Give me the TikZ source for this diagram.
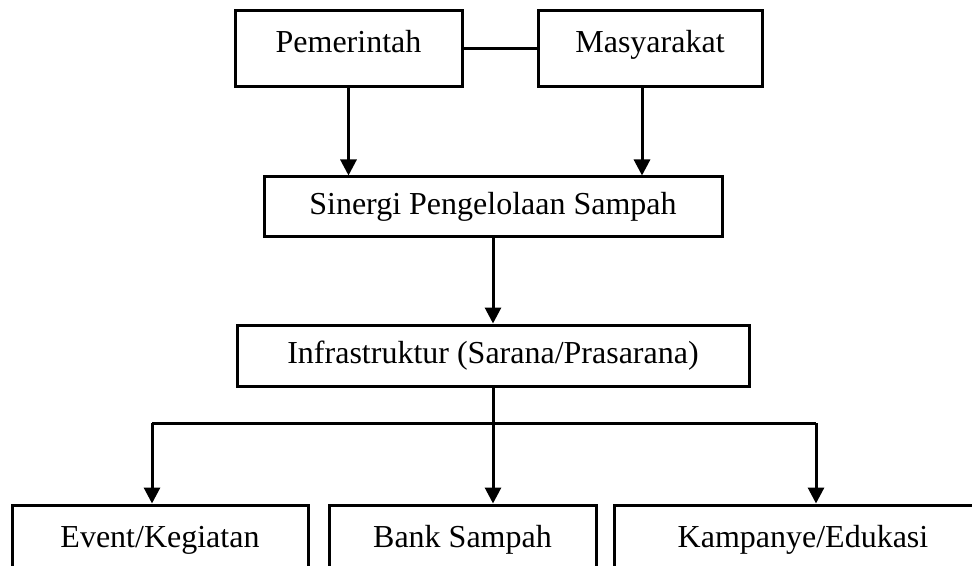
\documentclass[tikz,border=0pt]{standalone}
\usepackage{fontspec}
\setmainfont{Liberation Serif}
\usepackage{tikz}
\usetikzlibrary{arrows.meta,positioning}

\begin{document}
\begin{tikzpicture}[
x=0.5pt, y=-0.5pt,
font=\fontsize{16}{19}\selectfont,
box/.style={draw, line width=1.5pt, align=center, inner sep=0pt, text height=11pt, text depth=3.5pt},
link/.style={line width=1.5pt},
line/.style={-{Triangle[width=8pt,length=8pt]}, line width=1.5pt}
]
\useasboundingbox (0,0) rectangle (972,566);
\clip (0,0) rectangle (972,566);

\node[box, minimum width=113.5pt, minimum height=38pt, text depth=7pt] (pem) at (348.5,49) {Pemerintah};
\node[box, minimum width=112pt, minimum height=38pt, text depth=7pt, right=36.5pt of pem] (masy) {Masyarakat};
\node[box, minimum width=229pt, minimum height=30pt] (sinergi) at (493,207) {Sinergi Pengelolaan Sampah};
\node[box, minimum width=256pt, minimum height=30.5pt, below=42.5pt of sinergi] (infra) {Infrastruktur (Sarana/Prasarana)};
\node[box, minimum width=148pt, minimum height=35pt, text depth=4pt] (event) at (160,540) {Event/Kegiatan};
\node[box, minimum width=133.5pt, minimum height=35pt, text depth=4pt, right=9pt of event] (bank) {Bank Sampah};
\node[box, minimum width=189pt, minimum height=35pt, text depth=4pt, right=7.5pt of bank] (kamp) {Kampanye/Edukasi};

\coordinate (lft) at (152,423);
\coordinate (rgt) at (816,423);

\draw[link] (pem) -- (masy);
\draw[line] (pem.south) -- (pem.south |- sinergi.north);
\draw[line] ([xshift=-4pt]masy.south) -- ([xshift=-4pt]masy.south |- sinergi.north);
\draw[line] (sinergi) -- (infra);
\draw[line] (infra.south) -- (infra.south |- bank.north);
\draw[link] (lft) -- (rgt);
\draw[line] (lft) -- (lft |- event.north);
\draw[line] (rgt) -- (rgt |- kamp.north);
\end{tikzpicture}
\end{document}
